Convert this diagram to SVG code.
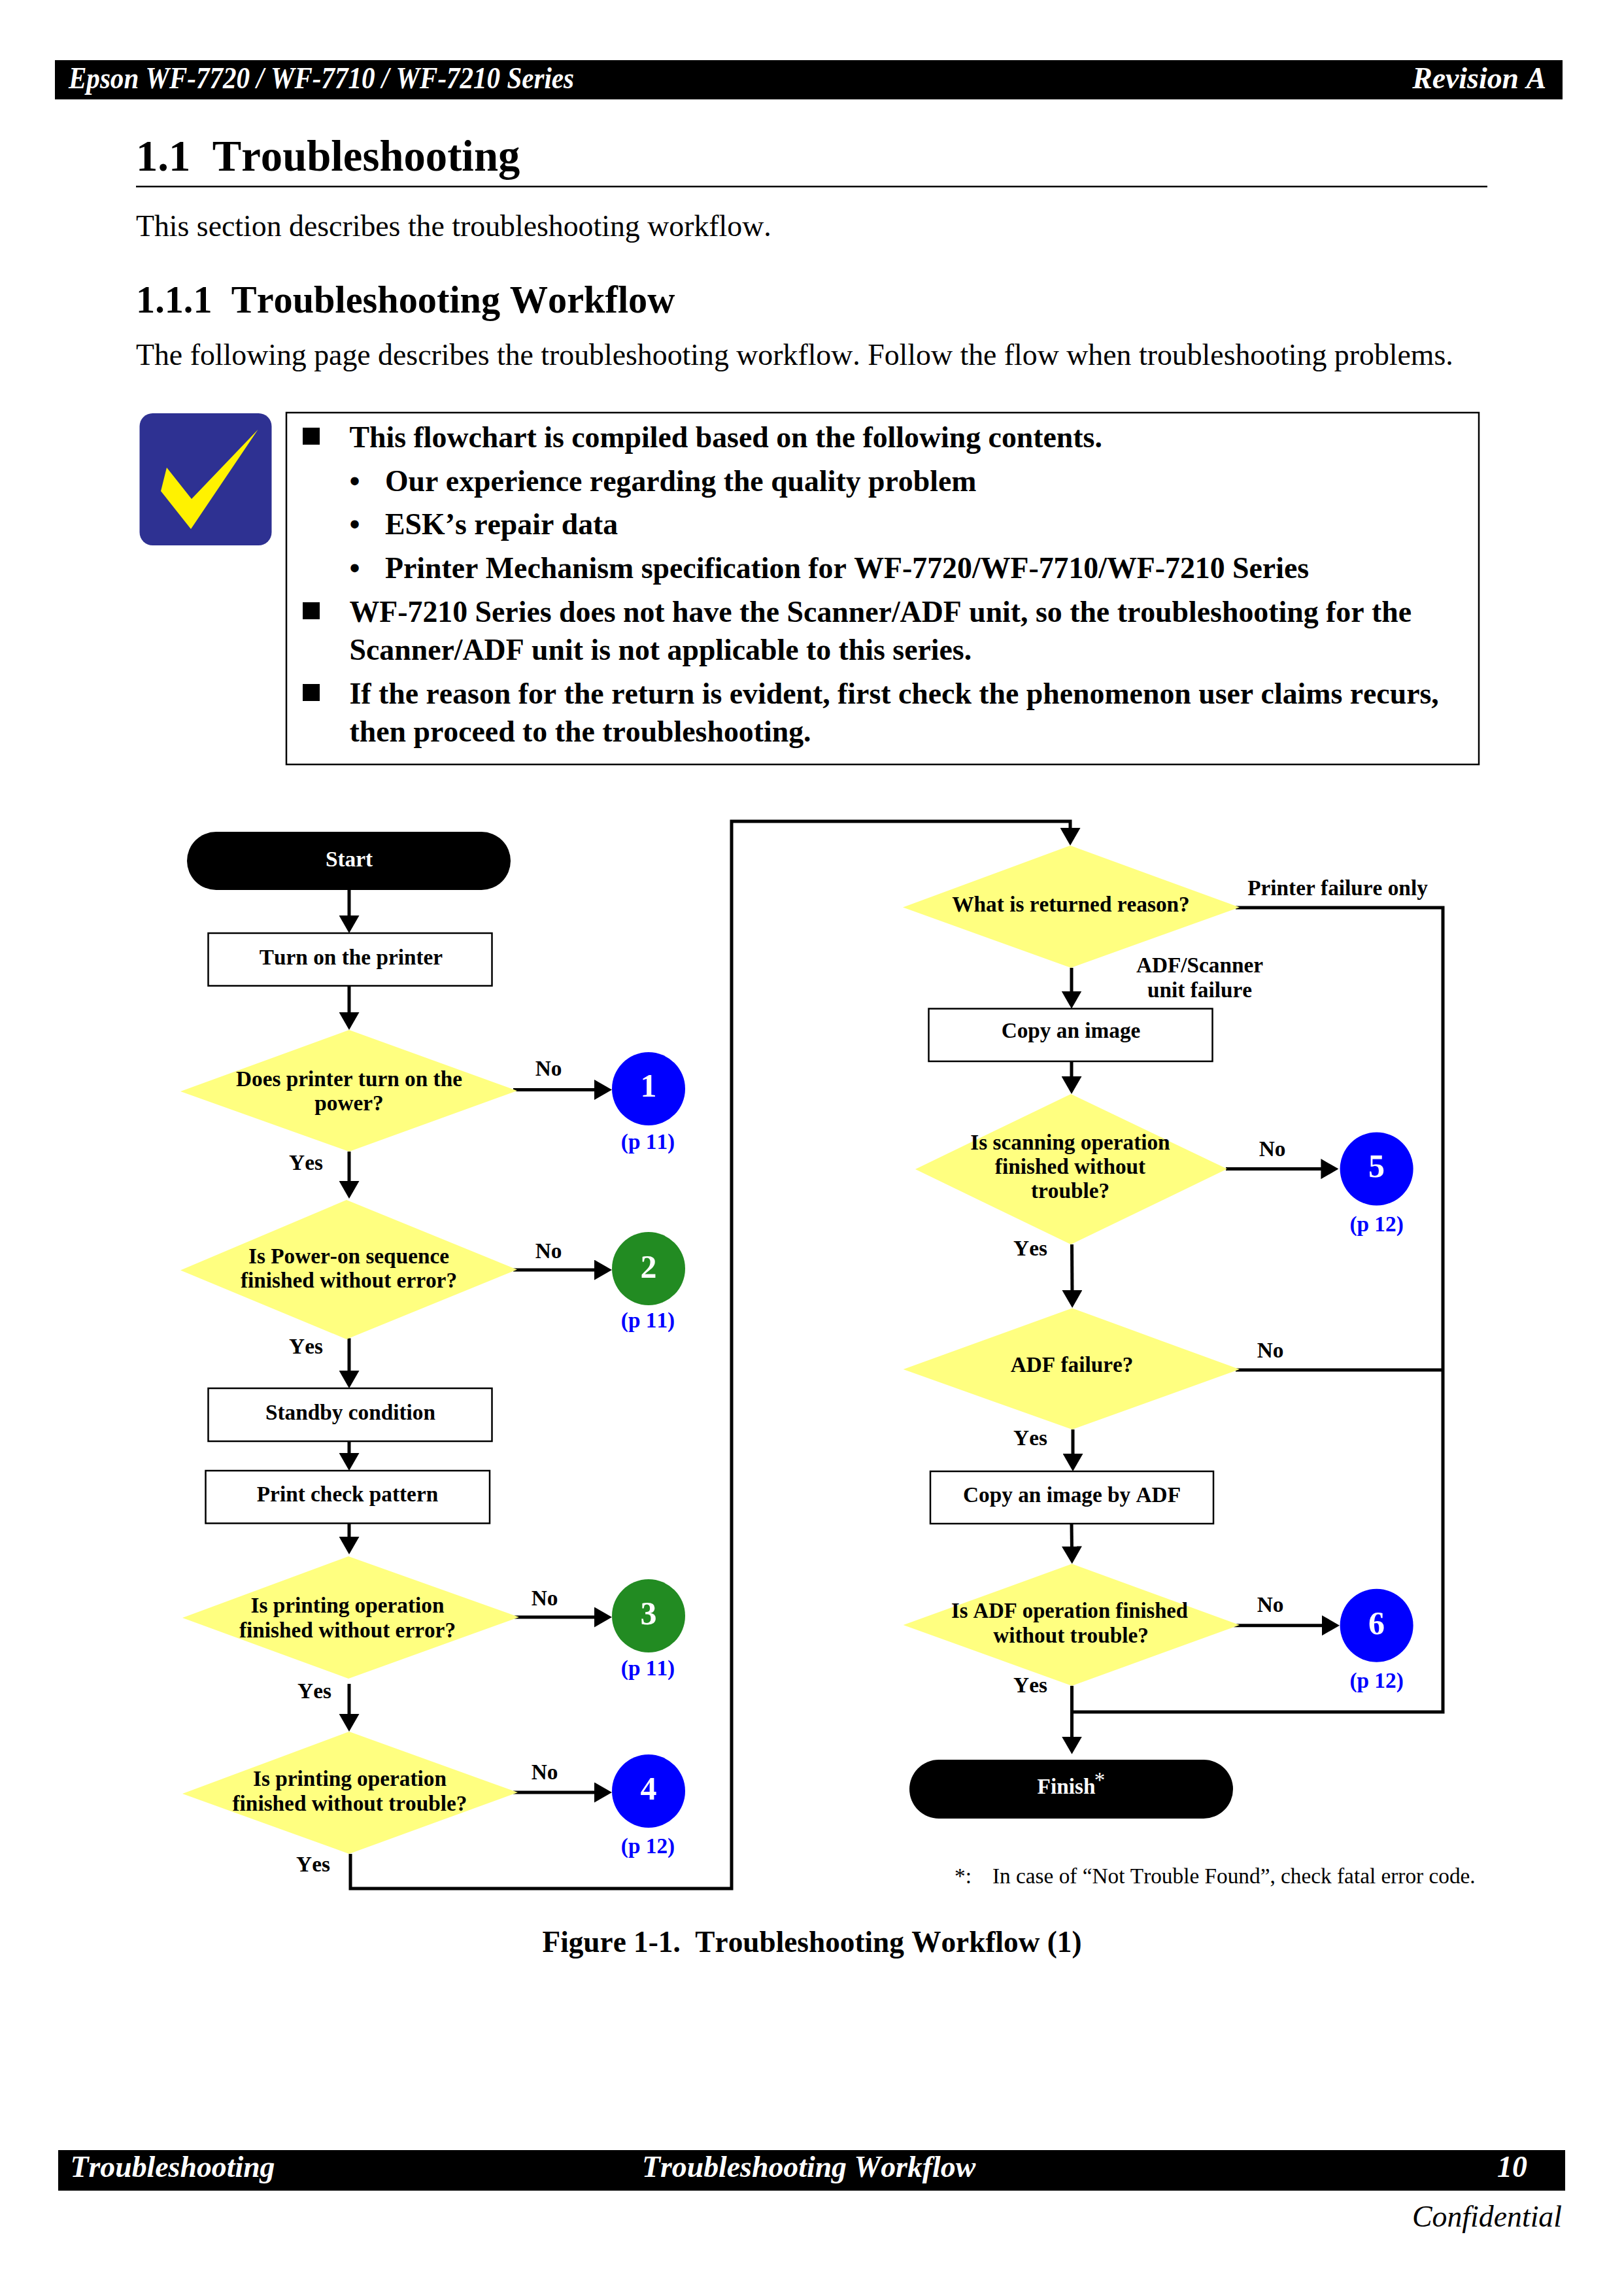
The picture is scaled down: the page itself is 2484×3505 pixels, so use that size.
<svg xmlns="http://www.w3.org/2000/svg" width="2484" height="3505" viewBox="0 0 2484 3505">
<defs>
<style>
text{font-family:"Liberation Serif","Times New Roman",serif;fill:#000;white-space:pre;font-kerning:none}
.body{font-size:45.8px}
.note{font-size:45.8px;font-weight:700}
.h1{font-size:66.7px;font-weight:700}
.h2{font-size:58.3px;font-weight:700}
.hdr{font-size:45.8px;font-weight:700;font-style:italic;fill:#fff}
.lbl{font-size:33.3px;font-weight:700;text-anchor:middle}
.page{font-size:33.3px;font-weight:700;text-anchor:middle;fill:#00f}
.num{font-size:50px;font-weight:700;text-anchor:middle;fill:#fff}
.dec{fill:#ffff80}
.box{fill:#fff;stroke:#000;stroke-width:2.5}
.blue{fill:#00f}
.green{fill:#228b22}
.pill{fill:#000}
.wire{fill:none;stroke:#000;stroke-width:5}
.arr{marker-end:url(#head)}
</style>
<marker id="head" markerUnits="userSpaceOnUse" markerWidth="27" markerHeight="31" viewBox="0 0 27 31" refX="7" refY="15.500" orient="auto"><polygon points="0,0 27,15.500 0,31"/></marker>
</defs>
<rect width="2484" height="3505" fill="#fff"/>
<g id="page-header">
<rect x="84" y="92" width="2306" height="60" fill="#000"/>
<text class="hdr" x="105" y="135" textLength="773" lengthAdjust="spacingAndGlyphs">Epson WF-7720 / WF-7710 / WF-7210 Series</text>
<text class="hdr" x="2365" y="135" text-anchor="end">Revision A</text>
</g>
<g id="headings">
<text class="h1" x="208" y="261">1.1  Troubleshooting</text>
<rect x="208" y="284" width="2067" height="2.5" fill="#000"/>
<text class="body" x="208" y="361">This section describes the troubleshooting workflow.</text>
<text class="h2" x="208" y="478">1.1.1  Troubleshooting Workflow</text>
<text class="body" x="208" y="558">The following page describes the troubleshooting workflow. Follow the flow when troubleshooting problems.</text>
</g>
<g id="note-icon">
<rect x="213.500" y="632" width="202" height="202" rx="20" fill="#2e3192"/>
<polygon points="394.500,657 293,763 255,715 246,751 292,809" fill="#fff200"/>
</g>
<g id="note">
<rect x="438" y="631" width="1824" height="538" fill="#fff" stroke="#000" stroke-width="2.500"/>
<rect x="463" y="654" width="26" height="26"/>
<text class="note" x="534.500" y="684">This flowchart is compiled based on the following contents.</text>
<text class="note" x="534.500" y="750.500">•</text>
<text class="note" x="589" y="750.500">Our experience regarding the quality problem</text>
<text class="note" x="534.500" y="817">•</text>
<text class="note" x="589" y="817">ESK’s repair data</text>
<text class="note" x="534.500" y="884">•</text>
<text class="note" x="589" y="884">Printer Mechanism specification for WF-7720/WF-7710/WF-7210 Series</text>
<rect x="463" y="921" width="26" height="26"/>
<text class="note" x="534.500" y="950.500">WF-7210 Series does not have the Scanner/ADF unit, so the troubleshooting for the</text>
<text class="note" x="534.500" y="1009">Scanner/ADF unit is not applicable to this series.</text>
<rect x="463" y="1046" width="26" height="26"/>
<text class="note" x="534.500" y="1076">If the reason for the return is evident, first check the phenomenon user claims recurs,</text>
<text class="note" x="534.500" y="1134">then proceed to the troubleshooting.</text>
</g>
<g id="connectors">
<path class="wire arr" d="M534 1361V1407"/>
<path class="wire arr" d="M534 1507V1555"/>
<path class="wire arr" d="M785 1666.500H916"/>
<path class="wire arr" d="M534 1761V1813"/>
<path class="wire arr" d="M785 1942H916"/>
<path class="wire arr" d="M534 2046.500V2103"/>
<path class="wire arr" d="M534 2204V2229"/>
<path class="wire arr" d="M534 2330V2357"/>
<path class="wire arr" d="M787 2473H916"/>
<path class="wire arr" d="M534 2575V2628"/>
<path class="wire arr" d="M785 2741H916"/>
<path class="wire arr" d="M536 2835V2888H1119V1256H1637V1273"/>
<path class="wire arr" d="M1639 1480V1522.500"/>
<path class="wire" d="M1890 1388H2207V2618H1639.500"/>
<path class="wire arr" d="M1639 1623V1653"/>
<path class="wire arr" d="M1875 1787.600H2027.400"/>
<path class="wire arr" d="M1639.500 1903L1640 1980"/>
<path class="wire" d="M1890 2095H2207"/>
<path class="wire arr" d="M1641 2186V2230"/>
<path class="wire arr" d="M1639 2330L1639.500 2371.600"/>
<path class="wire arr" d="M1887 2485.700H2029"/>
<path class="wire arr" d="M1639.500 2578V2662.600"/>
</g>
<g id="start"><rect class="pill" x="286" y="1272" width="495" height="89" rx="44.500"/><text class="lbl" x="534" y="1325" style="fill:#fff">Start</text></g>
<g id="turn-on"><rect class="box" x="318.500" y="1427" width="434" height="80.500"/><text class="lbl" x="537" y="1475">Turn on the printer</text></g>
<g id="d-power"><polygon class="dec" points="534,1575 791,1668 534,1761 276,1669"/><text class="lbl" x="534" y="1661">Does printer turn on the</text><text class="lbl" x="534" y="1698">power?</text></g>
<g id="d-sequence"><polygon class="dec" points="530,1835 791,1941.500 530,2048 276,1942.500"/><text class="lbl" x="533.500" y="1932">Is Power-on sequence</text><text class="lbl" x="533.500" y="1969">finished without error?</text></g>
<g id="standby"><rect class="box" x="318.500" y="2123" width="434" height="81"/><text class="lbl" x="536" y="2171">Standby condition</text></g>
<g id="print-check"><rect class="box" x="314.500" y="2249" width="434.500" height="80.500"/><text class="lbl" x="531.500" y="2296">Print check pattern</text></g>
<g id="d-print-error"><polygon class="dec" points="533,2380 794,2473 533,2567 279,2474"/><text class="lbl" x="531.500" y="2466">Is printing operation</text><text class="lbl" x="531.500" y="2503.500">finished without error?</text></g>
<g id="d-print-trouble"><polygon class="dec" points="534,2648 792,2741 534,2835 279,2743"/><text class="lbl" x="535" y="2731">Is printing operation</text><text class="lbl" x="535" y="2769">finished without trouble?</text></g>
<g id="c1"><circle class="blue" cx="992" cy="1665" r="56"/><text class="num" x="992" y="1677">1</text><text class="page" x="991" y="1757">(p 11)</text></g>
<g id="c2"><circle class="green" cx="992" cy="1940" r="56"/><text class="num" x="992" y="1953.500">2</text><text class="page" x="991" y="2030">(p 11)</text></g>
<g id="c3"><circle class="green" cx="992" cy="2471" r="56"/><text class="num" x="992" y="2483.500">3</text><text class="page" x="991" y="2562">(p 11)</text></g>
<g id="c4"><circle class="blue" cx="992" cy="2739" r="56"/><text class="num" x="992" y="2752">4</text><text class="page" x="991" y="2833.500">(p 12)</text></g>
<g id="d-reason"><polygon class="dec" points="1637,1293 1896,1387.500 1638,1480 1381,1387.500"/><text class="lbl" x="1638" y="1394">What is returned reason?</text></g>
<g id="copy"><rect class="box" x="1420.500" y="1542.500" width="434" height="80.500"/><text class="lbl" x="1638" y="1587">Copy an image</text></g>
<g id="d-scan"><polygon class="dec" points="1638,1673 1877,1787.600 1638,1903 1400,1788"/><text class="lbl" x="1637" y="1757.700">Is scanning operation</text><text class="lbl" x="1637" y="1794.500">finished without</text><text class="lbl" x="1637" y="1832">trouble?</text></g>
<g id="d-adf"><polygon class="dec" points="1640,2000.500 1896,2094 1640,2186 1381.600,2094"/><text class="lbl" x="1639.500" y="2098">ADF failure?</text></g>
<g id="copy-adf"><rect class="box" x="1423" y="2250" width="433" height="80"/><text class="lbl" x="1639.500" y="2297">Copy an image by ADF</text></g>
<g id="d-adf-op"><polygon class="dec" points="1639.500,2391.600 1896,2485 1639.500,2578 1381.600,2485"/><text class="lbl" x="1636" y="2474" textLength="362" lengthAdjust="spacingAndGlyphs">Is ADF operation finished</text><text class="lbl" x="1638" y="2511.500">without trouble?</text></g>
<g id="c5"><circle class="blue" cx="2105.600" cy="1787.600" r="56"/><text class="num" x="2105.600" y="1799.600">5</text><text class="page" x="2105.600" y="1883">(p 12)</text></g>
<g id="c6"><circle class="blue" cx="2105.600" cy="2485.700" r="56"/><text class="num" x="2105.600" y="2499">6</text><text class="page" x="2105.600" y="2581">(p 12)</text></g>
<g id="finish"><rect class="pill" x="1391" y="2691" width="495" height="90" rx="45"/><text class="lbl" x="1631" y="2743" style="fill:#fff">Finish</text><text x="1682" y="2733" style="fill:#fff;font-size:33px;text-anchor:middle">*</text></g>
<g id="edge-labels">
<text class="lbl" x="839" y="1645">No</text>
<text class="lbl" x="468" y="1789">Yes</text>
<text class="lbl" x="839" y="1924">No</text>
<text class="lbl" x="468" y="2069.500">Yes</text>
<text class="lbl" x="833" y="2455">No</text>
<text class="lbl" x="481" y="2596.500">Yes</text>
<text class="lbl" x="833" y="2721">No</text>
<text class="lbl" x="479" y="2862">Yes</text>
<text class="lbl" x="2046" y="1369">Printer failure only</text>
<text class="lbl" x="1835" y="1487.400">ADF/Scanner</text>
<text class="lbl" x="1835" y="1525">unit failure</text>
<text class="lbl" x="1946" y="1768">No</text>
<text class="lbl" x="1576" y="1919.600">Yes</text>
<text class="lbl" x="1943" y="2076">No</text>
<text class="lbl" x="1576" y="2210">Yes</text>
<text class="lbl" x="1943" y="2464.500">No</text>
<text class="lbl" x="1576" y="2588">Yes</text>
</g>
<g id="footnote">
<text x="1460" y="2880" style="font-size:33.3px">*:</text>
<text x="1518" y="2880" style="font-size:33.3px">In case of “Not Trouble Found”, check fatal error code.</text>
</g>
<text id="caption" x="829.500" y="2985" textLength="825" lengthAdjust="spacingAndGlyphs" style="font-size:45.8px;font-weight:700">Figure 1-1.  Troubleshooting Workflow (1)</text>
<g id="page-footer">
<rect x="89" y="3288" width="2305" height="62" fill="#000"/>
<text class="hdr" x="107.500" y="3329">Troubleshooting</text>
<text class="hdr" x="982" y="3329">Troubleshooting Workflow</text>
<text class="hdr" x="2290" y="3329">10</text>
<text x="2389" y="3405" text-anchor="end" style="font-size:45.8px;font-style:italic">Confidential</text>
</g>
</svg>
